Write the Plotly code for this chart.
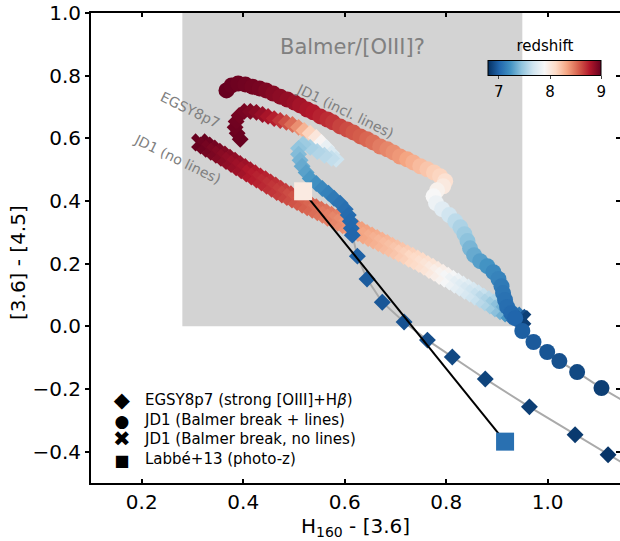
import plotly.graph_objects as go

# ---------------- data ----------------
# JD1 model, Balmer break without lines (X markers)
jd1_nolines_x = [0.315, 0.325, 0.335, 0.345, 0.355, 0.365, 0.375, 0.385, 0.395, 0.405,
                 0.415, 0.425, 0.435, 0.445, 0.455, 0.465, 0.475, 0.485, 0.495, 0.505,
                 0.515, 0.525, 0.535, 0.545, 0.555, 0.565, 0.575, 0.585, 0.595, 0.605,
                 0.615, 0.625, 0.635, 0.645, 0.655, 0.665, 0.675, 0.685, 0.695, 0.705,
                 0.715, 0.725, 0.735, 0.745, 0.755, 0.765, 0.775, 0.785, 0.795, 0.805,
                 0.815, 0.825, 0.835, 0.845, 0.855, 0.865, 0.875, 0.885, 0.895, 0.905,
                 0.915, 0.925, 0.935, 0.945, 0.950]
jd1_nolines_y = [0.587, 0.577, 0.567, 0.557, 0.548, 0.538, 0.528, 0.518, 0.508, 0.498,
                 0.488, 0.478, 0.469, 0.459, 0.449, 0.439, 0.429, 0.421, 0.413, 0.405,
                 0.397, 0.388, 0.380, 0.372, 0.364, 0.356, 0.347, 0.339, 0.331, 0.323,
                 0.315, 0.307, 0.298, 0.290, 0.282, 0.274, 0.266, 0.257, 0.249, 0.241,
                 0.233, 0.225, 0.216, 0.208, 0.199, 0.190, 0.180, 0.171, 0.161, 0.152,
                 0.143, 0.133, 0.124, 0.114, 0.105, 0.095, 0.086, 0.076, 0.067, 0.057,
                 0.048, 0.041, 0.034, 0.027, 0.023]
jd1_nolines_z = [9.00, 8.98, 8.96, 8.94, 8.92, 8.90, 8.88, 8.86, 8.84, 8.82,
                 8.79, 8.77, 8.75, 8.73, 8.71, 8.69, 8.67, 8.65, 8.62, 8.60,
                 8.58, 8.56, 8.54, 8.52, 8.50, 8.48, 8.46, 8.44, 8.42, 8.40,
                 8.38, 8.36, 8.35, 8.33, 8.31, 8.29, 8.27, 8.25, 8.23, 8.21,
                 8.18, 8.16, 8.13, 8.11, 8.08, 8.05, 8.01, 7.97, 7.93, 7.89,
                 7.84, 7.80, 7.76, 7.72, 7.68, 7.65, 7.60, 7.56, 7.50, 7.44,
                 7.37, 7.26, 7.10, 6.93, 6.86]

# JD1 model, Balmer break + lines (circles)
jd1_lines_x = [0.367, 0.377, 0.390, 0.404, 0.418, 0.432, 0.445, 0.459, 0.473, 0.487,
               0.501, 0.512, 0.526, 0.538, 0.552, 0.566, 0.577, 0.591, 0.605, 0.617,
               0.631, 0.644, 0.656, 0.670, 0.684, 0.696, 0.709, 0.723, 0.735, 0.749,
               0.763, 0.776, 0.788, 0.798, 0.794, 0.782, 0.775, 0.780, 0.792, 0.806,
               0.818, 0.828, 0.836, 0.842, 0.847, 0.855, 0.867, 0.881, 0.893, 0.903,
               0.909, 0.912, 0.916, 0.920, 0.928, 0.936, 0.950, 0.972, 0.999, 1.023,
               1.058, 1.106]
jd1_lines_y = [0.753, 0.769, 0.775, 0.772, 0.765, 0.759, 0.753, 0.743, 0.733, 0.724,
               0.714, 0.705, 0.692, 0.683, 0.670, 0.660, 0.651, 0.638, 0.628, 0.619,
               0.606, 0.597, 0.587, 0.574, 0.565, 0.555, 0.542, 0.533, 0.523, 0.511,
               0.501, 0.491, 0.479, 0.463, 0.447, 0.434, 0.415, 0.393, 0.374, 0.355,
               0.335, 0.316, 0.294, 0.272, 0.249, 0.227, 0.208, 0.192, 0.173, 0.151,
               0.128, 0.106, 0.084, 0.062, 0.042, 0.026, -0.015, -0.050, -0.082, -0.111,
               -0.146, -0.197]
jd1_lines_z = [9.00, 8.99, 8.98, 8.97, 8.96, 8.95, 8.93, 8.91, 8.89, 8.87,
               8.85, 8.82, 8.80, 8.78, 8.75, 8.72, 8.69, 8.65, 8.62, 8.59,
               8.57, 8.54, 8.51, 8.47, 8.44, 8.41, 8.38, 8.34, 8.30, 8.25,
               8.21, 8.17, 8.14, 8.07, 8.01, 7.95, 7.90, 7.84, 7.77, 7.68,
               7.61, 7.55, 7.50, 7.45, 7.39, 7.34, 7.29, 7.24, 7.19, 7.16,
               7.12, 7.10, 7.08, 7.06, 7.04, 7.02, 6.99, 6.97, 6.95, 6.93,
               6.90, 6.86]
jd1_lines_tail_x = [1.160]
jd1_lines_tail_y = [-0.248]

# EGSY8p7 model (diamonds)
egsy_x = [0.394, 0.388, 0.384, 0.386, 0.392, 0.402, 0.414, 0.426, 0.438, 0.449,
          0.461, 0.473, 0.485, 0.497, 0.509, 0.520, 0.532, 0.544, 0.554, 0.564,
          0.574, 0.583, 0.574, 0.560, 0.546, 0.532, 0.518, 0.509, 0.509, 0.512,
          0.516, 0.524, 0.532, 0.544, 0.556, 0.568, 0.579, 0.591, 0.601, 0.607,
          0.611, 0.613, 0.615, 0.625, 0.644, 0.674, 0.717, 0.763, 0.812, 0.877,
          0.964, 1.054, 1.119]
egsy_y = [0.597, 0.616, 0.635, 0.654, 0.673, 0.686, 0.686, 0.683, 0.676, 0.670,
          0.663, 0.657, 0.651, 0.644, 0.635, 0.625, 0.616, 0.603, 0.587, 0.571,
          0.552, 0.533, 0.536, 0.546, 0.558, 0.571, 0.581, 0.568, 0.549, 0.530,
          0.511, 0.491, 0.472, 0.456, 0.440, 0.425, 0.409, 0.393, 0.374, 0.355,
          0.335, 0.313, 0.291, 0.224, 0.151, 0.077, 0.014, -0.044, -0.098, -0.168,
          -0.257, -0.346, -0.410]
egsy_z = [9.00, 8.99, 8.98, 8.97, 8.96, 8.95, 8.93, 8.90, 8.86, 8.81,
          8.76, 8.69, 8.61, 8.52, 8.41, 8.28, 8.15, 8.03, 7.92, 7.82,
          7.74, 7.67, 7.63, 7.60, 7.57, 7.54, 7.50, 7.46, 7.42, 7.38,
          7.34, 7.30, 7.26, 7.22, 7.18, 7.15, 7.12, 7.09, 7.07, 7.05,
          7.04, 7.03, 7.02, 7.00, 6.98, 6.96, 6.94, 6.92, 6.90, 6.88,
          6.86, 6.84, 6.82]
egsy_tail_x = [1.160]
egsy_tail_y = [-0.448]

# Labbe+13 photometric-redshift points (squares)
labbe_x = [0.518, 0.916]
labbe_y = [0.431, -0.368]
labbe_z = [8.00, 7.07]

# box of the Balmer/[OIII] degeneracy region
box_x = [0.28, 0.95]
box_y = [0.0, 1.0]

# ticks
x_ticks = [0.2, 0.4, 0.6, 0.8, 1.0]
x_ticklabels = ["0.2", "0.4", "0.6", "0.8", "1.0"]
y_ticks = [-0.4, -0.2, 0.0, 0.2, 0.4, 0.6, 0.8, 1.0]
y_ticklabels = ["\u22120.4", "\u22120.2", "0.0", "0.2", "0.4", "0.6", "0.8", "1.0"]
cbar_ticks = [7, 8, 9]
z_range = [6.8, 9.0]

legend_names = ["EGSY8p7 (strong [OIII]+H<i>\u03b2</i>)",
                "JD1 (Balmer break + lines)",
                "JD1 (Balmer break, no lines)",
                "Labb\u00e9+13 (photo-z)"]
legend_glyphs = ["\u25c6", "\u25cf", "\u2716", "\u25a0"]
legend_glyph_px = [21, 17, 21, 16]

# ---------------- figure ----------------
rdbu_r = [[0.0, "#053061"], [0.1, "#2166ac"], [0.2, "#4393c3"], [0.3, "#92c5de"],
          [0.4, "#d1e5f0"], [0.5, "#f7f7f7"], [0.6, "#fddbc7"], [0.7, "#f4a582"],
          [0.8, "#d6604d"], [0.9, "#b2182b"], [1.0, "#67001f"]]

FONT = "DejaVu Sans"
W, H = 620, 541
ML, MR, MT, MB = 91, 0, 13, 58
PW, PH = W - ML - MR, H - MT - MB


def px_to_paper_x(px):
    return (px - ML) / PW


def px_to_paper_y(py):
    return (H - MB - py) / PH


fig = go.Figure()

fig.add_shape(type="rect", xref="x", yref="y", x0=box_x[0], x1=box_x[1],
              y0=box_y[0], y1=box_y[1], fillcolor="#d3d3d3",
              line=dict(width=0), layer="below")

# grey model lines
fig.add_trace(go.Scatter(x=egsy_x + egsy_tail_x, y=egsy_y + egsy_tail_y, mode="lines",
                         line=dict(color="#aaaaaa", width=2), showlegend=False,
                         hoverinfo="skip"))
fig.add_trace(go.Scatter(x=jd1_lines_x + jd1_lines_tail_x, y=jd1_lines_y + jd1_lines_tail_y,
                         mode="lines", line=dict(color="#aaaaaa", width=2),
                         showlegend=False, hoverinfo="skip"))


def track(x, y, z, symbol, size):
    return go.Scatter(x=x, y=y, mode="markers", showlegend=False,
                      marker=dict(symbol=symbol, size=size, color=z,
                                  coloraxis="coloraxis", line=dict(width=0)))


fig.add_trace(track(jd1_nolines_x, jd1_nolines_y, jd1_nolines_z, "x", 16))
fig.add_trace(track(jd1_lines_x, jd1_lines_y, jd1_lines_z, "circle", 16))
fig.add_trace(track(egsy_x, egsy_y, egsy_z, "diamond", 13))

fig.add_trace(go.Scatter(x=labbe_x, y=labbe_y, mode="lines",
                         line=dict(color="black", width=2), showlegend=False))
fig.add_trace(track(labbe_x, labbe_y, labbe_z, "square", 18))

# right-hand ticks
fig.add_trace(go.Scatter(x=[None], y=[None], yaxis="y2", showlegend=False))

# legend, drawn as two text blocks (symbols and labels), 19.5 px per row
legend_center_py = 429.25
glyph_text = "<br>".join(
    "<span style='font-size:%dpx'>%s</span>" % (s, g)
    for g, s in zip(legend_glyphs, legend_glyph_px))
fig.add_annotation(xref="paper", yref="paper", x=px_to_paper_x(122),
                   y=px_to_paper_y(legend_center_py), text=glyph_text,
                   showarrow=False, xanchor="center", yanchor="middle", align="center",
                   font=dict(size=15, color="black", family=FONT))
fig.add_annotation(xref="paper", yref="paper", x=px_to_paper_x(142),
                   y=px_to_paper_y(legend_center_py), text="<br>".join(legend_names),
                   showarrow=False, xanchor="left", yanchor="middle", align="left",
                   font=dict(size=15, color="black", family=FONT))

# text labels
fig.add_annotation(x=0.615, y=0.89, text="Balmer/[OIII]?", showarrow=False,
                   font=dict(size=21, color="#808080", family=FONT))
grey_labels = [("JD1 (incl. lines)", 0.601, 0.686),
               ("EGSY8p7", 0.296, 0.689),
               ("JD1 (no lines)", 0.270, 0.533)]
for txt, lx, ly in grey_labels:
    fig.add_annotation(x=lx, y=ly, text=txt, showarrow=False, textangle=26,
                       font=dict(size=14, color="#808080", family=FONT))

# y-axis title
fig.add_annotation(xref="paper", yref="paper", x=px_to_paper_x(18),
                   y=px_to_paper_y(263), text="[3.6] - [4.5]", showarrow=False,
                   textangle=-90, xanchor="center", yanchor="middle",
                   font=dict(size=20, color="black", family=FONT))

axis_common = dict(showgrid=False, zeroline=False, tickcolor="black", tickwidth=1.5,
                   ticklen=4, tickfont=dict(size=20, family=FONT, color="black"))

fig.update_layout(
    width=W, height=H,
    margin=dict(l=ML, r=MR, t=MT, b=MB),
    plot_bgcolor="white", paper_bgcolor="white",
    font=dict(family=FONT, color="black"),
    showlegend=False,
    xaxis=dict(range=[0.1, 1.1425], tickvals=x_ticks, ticktext=x_ticklabels,
               ticks="inside", showline=True, linecolor="black", linewidth=2,
               mirror="ticks",
               title=dict(text="H<sub>160</sub> - [3.6]", font=dict(size=20, family=FONT),
                          standoff=4),
               **axis_common),
    yaxis=dict(range=[-0.5, 1.0], tickvals=y_ticks, ticktext=y_ticklabels,
               ticks="outside", showline=True, linecolor="black", linewidth=2,
               mirror=False, **axis_common),
    yaxis2=dict(range=[-0.5, 1.0], overlaying="y", side="right", tickvals=y_ticks,
                ticks="inside", showticklabels=False, showline=False, showgrid=False,
                zeroline=False, ticklen=4, tickwidth=1.5, tickcolor="black"),
    coloraxis=dict(colorscale=rdbu_r, cmin=z_range[0], cmax=z_range[1],
                   colorbar=dict(orientation="h", x=0.858, xanchor="center",
                                 y=0.8745, yanchor="middle", len=113, lenmode="pixels",
                                 thickness=15, thicknessmode="pixels",
                                 outlinecolor="black", outlinewidth=1,
                                 tickvals=cbar_ticks, ticks="outside", ticklen=3,
                                 tickfont=dict(size=15, family=FONT),
                                 title=dict(text="redshift", side="top",
                                            font=dict(size=15, family=FONT)),
                                 xpad=0, ypad=0)),
)

fig.write_html("out.html")
